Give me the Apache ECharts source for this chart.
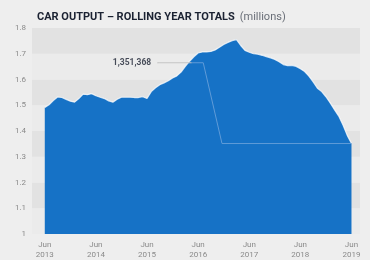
<!DOCTYPE html>
<html><head><meta charset="utf-8">
<script src="https://cdn.jsdelivr.net/npm/echarts@6/dist/echarts.min.js"></script>
<style>html,body{margin:0;padding:0;background:#eeeeee}#c{width:370px;height:260px}</style>
</head><body><div id="c"></div>
<script>
// Monthly rolling-year car output (millions), Jun 2013 .. Jun 2019
const values = [
 1.491,1.502,1.518,1.532,1.530,1.523,1.516,1.512,1.526,1.543,1.541,1.545,
 1.537,1.531,1.526,1.517,1.512,1.523,1.531,1.531,1.531,1.530,1.530,1.533,
 1.526,1.553,1.568,1.580,1.587,1.595,1.606,1.614,1.629,1.651,1.671,1.688,
 1.703,1.707,1.707,1.709,1.715,1.725,1.736,1.744,1.751,1.755,1.732,1.713,
 1.706,1.700,1.698,1.694,1.689,1.684,1.678,1.669,1.658,1.654,1.655,1.651,
 1.642,1.631,1.613,1.591,1.566,1.553,1.533,1.509,1.483,1.458,1.423,1.383,
 1.351368
];
const tickMonths = [0,12,24,36,48,60,72];
const tickLabels = ['Jun\n2013','Jun\n2014','Jun\n2015','Jun\n2016','Jun\n2017','Jun\n2018','Jun\n2019'];
const lastLabel = '1,351,368';
const annoLevel = 1.665;

const last = values[values.length-1];
const chart = echarts.init(document.getElementById('c'));
chart.setOption({
  backgroundColor:'#eeeeee',
  animation:false,
  title:{
    left:32, top:3,
    text:'{b|CAR OUTPUT – ROLLING YEAR TOTALS} {n|(millions)}',
    textStyle:{rich:{
      b:{fontFamily:'Roboto',fontWeight:'bold',fontSize:11,color:'#1b2232'},
      n:{fontFamily:'Roboto',fontWeight:'normal',fontSize:11,color:'#6a6f78'}
    }}
  },
  grid:{left:32,right:10,top:28,bottom:25},
  xAxis:{
    type:'value', min:-3, max:74,
    axisLine:{show:false}, axisTick:{show:false}, splitLine:{show:false},
    axisLabel:{
      customValues:tickMonths,
      formatter:(v)=>tickLabels[tickMonths.indexOf(v)] || '',
      color:'#8a8a8a', fontSize:8, fontFamily:'Roboto', lineHeight:10, margin:6
    }
  },
  yAxis:{
    type:'value', min:1, max:1.8, interval:0.1,
    axisLine:{show:false}, axisTick:{show:false}, splitLine:{show:false},
    splitArea:{show:true, areaStyle:{color:['#ebebeb','#e2e2e2']}},
    axisLabel:{color:'#8a8a8a', fontSize:8, fontFamily:'Roboto', margin:6,
      formatter:(v)=>String(Math.round(v*10)/10)}
  },
  series:[
    {
      type:'line', data:values.map((v,i)=>[i,v]), symbol:'none', silent:true,
      lineStyle:{color:'rgba(255,255,255,0.75)', width:1.2},
      areaStyle:{color:'#1672c6', opacity:1}
    },
    {
      type:'line', symbol:'none', silent:true, z:3,
      lineStyle:{color:'#c4c4c4', width:1},
      data:[[26.5,annoLevel],[34.5,annoLevel]]
    },
    {
      type:'scatter', symbol:'circle', symbolSize:1, silent:true, z:4,
      itemStyle:{color:'#c4c4c4'},
      label:{show:true, position:'left', distance:6, formatter:lastLabel,
        color:'#1b2232', fontSize:8.5, fontWeight:'bold', fontFamily:'Roboto'},
      data:[[26.5,annoLevel]]
    },
    {
      type:'line', symbol:'none', silent:true, z:3,
      lineStyle:{color:'#5f9bd8', width:1},
      data:[[34.5,annoLevel],[37.2,annoLevel],[41.6,last],[72,last]]
    }
  ]
});
</script></body></html>
